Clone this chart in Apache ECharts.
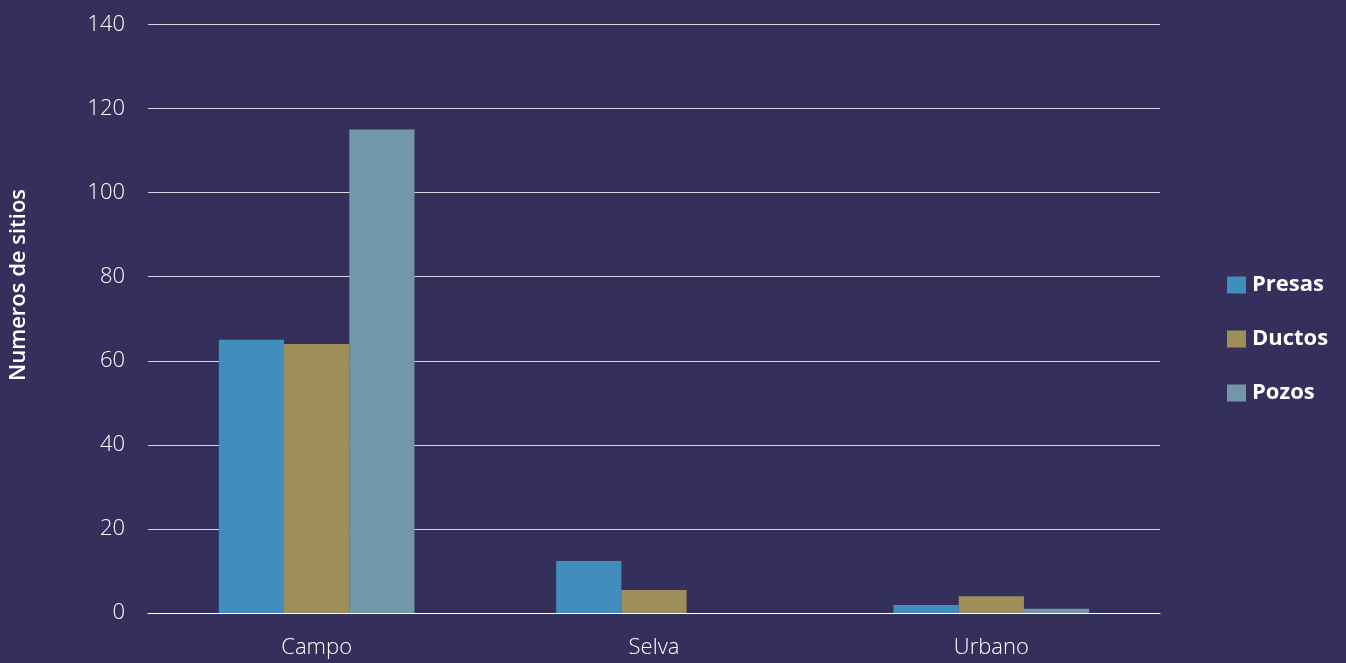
<!DOCTYPE html>
<html>
<head>
<meta charset="utf-8">
<script src="https://cdn.jsdelivr.net/npm/echarts@6/dist/echarts.min.js"></script>
<style>
  html, body { margin: 0; padding: 0; background: #352f5b; }
  #chart { width: 1346px; height: 663px; }
</style>
</head>
<body>
<div id="chart"></div>
<script>
// categorias y valores
const categories = ['Campo', 'Selva', 'Urbano'];
const presas = [65, 12.4, 1.9];
const ductos = [64, 5.5, 4];
const pozos = [115, 0, 1];
const yTicks = [0, 140, 20]; // min, max, intervalo

const chart = echarts.init(document.getElementById('chart'));

const labelFont = '"Open Sans", sans-serif';

chart.setOption({
    backgroundColor: '#352f5b',
    animation: false,
    color: ['#418dbb', '#9e8f59', '#7397aa'],
    grid: {
        left: 148,
        right: 186,
        top: 24.5,
        bottom: 50
    },
    legend: {
        orient: 'vertical',
        left: 1222,
        top: 269,
        itemWidth: 19,
        itemHeight: 17,
        itemGap: 32,
        icon: 'rect',
        data: ['Presas', 'Ductos', 'Pozos'],
        textStyle: {
            color: '#ffffff',
            fontSize: 22,
            fontWeight: 'bold',
            fontFamily: '"Open Sans", sans-serif',
            padding: [0, 0, 0, 1]
        }
    },
    graphic: [{
        type: 'text',
        x: 19,
        y: 285,
        rotation: Math.PI / 2,
        style: {
            text: 'Numeros de sitios',
            fill: '#ffffff',
            fontSize: 22,
            fontWeight: 600,
            fontFamily: '"Open Sans", sans-serif',
            align: 'center',
            verticalAlign: 'middle'
        }
    }],
    xAxis: {
        type: 'category',
        data: categories,
        axisLine: { show: true, lineStyle: { color: '#ffffff', width: 1 } },
        axisTick: { show: false },
        axisLabel: {
            color: '#ffffff',
            fontSize: 22,
            fontWeight: 300,
            fontFamily: labelFont,
            margin: 24
        }
    },
    yAxis: {
        type: 'value',
        min: yTicks[0],
        max: yTicks[1],
        interval: yTicks[2],
        axisLine: { show: false },
        axisTick: { show: false },
        axisLabel: {
            color: '#ffffff',
            fontSize: 22,
            fontWeight: 300,
            fontFamily: labelFont,
            margin: 23
        },
        splitLine: { lineStyle: { color: '#d8d6e4', width: 1 } }
    },
    series: [
        { name: 'Presas', type: 'bar', data: presas, barGap: '0%', barCategoryGap: '42%' },
        { name: 'Ductos', type: 'bar', data: ductos, barGap: '0%', barCategoryGap: '42%' },
        { name: 'Pozos', type: 'bar', data: pozos, barGap: '0%', barCategoryGap: '42%' }
    ]
});
</script>
</body>
</html>
